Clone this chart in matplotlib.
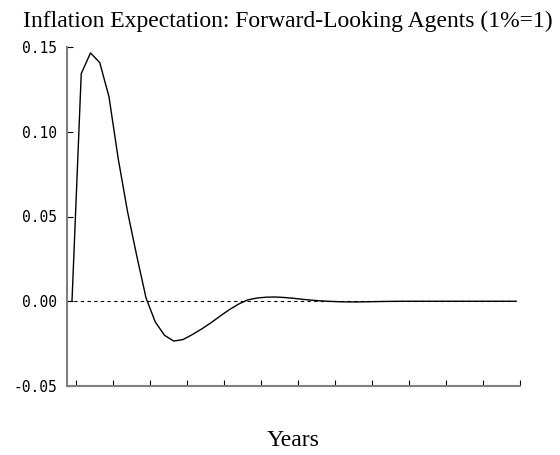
import matplotlib
matplotlib.use("Agg")
import matplotlib.pyplot as plt
import numpy as np

# Quarterly response (48 quarters = 12 years)
periods = list(range(49))
inflation_expectation = [
    0.0, 0.1343, 0.1465, 0.1408, 0.1206, 0.0840, 0.0530, 0.0268, 0.0020,
    -0.0122, -0.0201, -0.0235, -0.0226, -0.0197, -0.0164, -0.0128, -0.0088,
    -0.0050, -0.0017, 0.0008, 0.0019, 0.0024, 0.0025, 0.0022, 0.0017,
    0.0011, 0.0006, 0.0002, -0.0001, -0.0003, -0.0004, -0.0004, -0.0003,
    -0.0002, -0.0001, -0.00005, 0.0, 0.0, 0.0, 0.0, 0.0, 0.0, 0.0, 0.0,
    0.0, 0.0, 0.0, 0.0, 0.0,
]
ytick_values = [-0.05, 0.00, 0.05, 0.10, 0.15]
ytick_labels = ["-0.05", "0.00", "0.05", "0.10", "0.15"]
xtick_values = [0.43 + 4 * k for k in range(13)]

title = "Inflation Expectation: Forward-Looking Agents (1%=1)"
xlabel = "Years"

fig = plt.figure(figsize=(5.6, 4.55), dpi=100)
ax = fig.add_axes([67 / 560, 1 - 386 / 455, (520 - 67) / 560, (386 - 47) / 455])

xmin, xmax = -0.54, 48.43
ax.set_xlim(xmin, xmax)
ax.set_ylim(-0.05, 0.15)

ax.hlines(0, xmin, periods[-1], colors="black", linestyles=(0, (3, 3)), linewidth=0.8)
ax.plot(periods, inflation_expectation, color="black", linewidth=1.0)

for s in ["top", "right"]:
    ax.spines[s].set_visible(False)
for s in ["left", "bottom"]:
    ax.spines[s].set_color("#7f7f7f")
    ax.spines[s].set_linewidth(1.5)

ax.set_yticks(ytick_values)
ax.set_yticklabels(ytick_labels, fontsize=10.5, family="DejaVu Sans Mono")
ax.set_xticks(xtick_values)
ax.set_xticklabels([])
ax.tick_params(axis="both", direction="in", length=4, width=0.8, color="black")
ax.tick_params(axis="y", pad=7)

fig.text(288 / 560, 1 - 21 / 455, title, ha="center", va="center",
         family="Liberation Serif", fontsize=17)
fig.text(293 / 560, 1 - 440 / 455, xlabel, ha="center", va="center",
         family="Liberation Serif", fontsize=17)

fig.savefig("out.png", dpi=100)
